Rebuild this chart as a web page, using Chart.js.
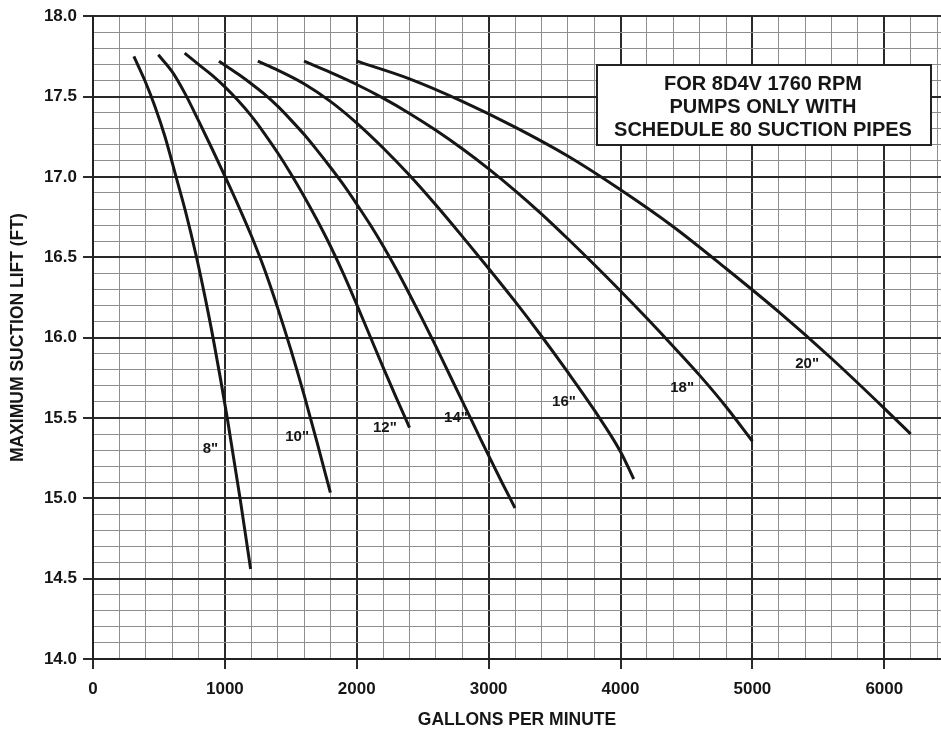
<!DOCTYPE html>
<html>
<head>
<meta charset="utf-8">
<script src="https://cdn.jsdelivr.net/npm/chart.js@4.4.1/dist/chart.umd.min.js"></script>
<style>
html,body{margin:0;padding:0;background:#fff;}
#wrap{width:941px;height:729px;position:relative;}
</style>
</head>
<body>
<div id="wrap"><canvas id="c" width="941" height="729"></canvas></div>
<script>
// ---- data ----
const pipeSizes = ['8"', '10"', '12"', '14"', '16"', '18"', '20"'];

const gpm8  = [310, 393, 469, 546, 630, 700, 785, 850, 910, 1018, 1115, 1195];
const lift8 = [17.75, 17.60, 17.44, 17.25, 17.00, 16.79, 16.50, 16.25, 16.00, 15.50, 15.00, 14.56];

const gpm10  = [495, 600, 700, 800, 900, 1000, 1100, 1200, 1300, 1400, 1500, 1600, 1700, 1800];
const lift10 = [17.76, 17.655, 17.515, 17.35, 17.18, 17.005, 16.825, 16.635, 16.425, 16.185, 15.925, 15.645, 15.345, 15.035];

const gpm12  = [695, 800, 900, 1000, 1100, 1200, 1300, 1400, 1500, 1600, 1700, 1800, 1900, 2000, 2100, 2200, 2300, 2400];
const lift12 = [17.77, 17.70, 17.635, 17.56, 17.475, 17.38, 17.27, 17.15, 17.02, 16.88, 16.73, 16.57, 16.395, 16.205, 16.01, 15.815, 15.625, 15.44];

const gpm14  = [955, 1100, 1200, 1300, 1400, 1500, 1600, 1700, 1800, 1900, 2000, 2100, 2200, 2300, 2400, 2500, 2600, 2700, 2800, 2900, 3000, 3100, 3200];
const lift14 = [17.72, 17.64, 17.58, 17.515, 17.44, 17.355, 17.265, 17.165, 17.06, 16.95, 16.83, 16.705, 16.57, 16.425, 16.27, 16.11, 15.945, 15.775, 15.605, 15.435, 15.265, 15.10, 14.94];

const gpm16  = [1250, 1400, 1600, 1800, 2000, 2200, 2400, 2600, 2800, 3000, 3200, 3400, 3600, 3800, 4000, 4100];
const lift16 = [17.72, 17.665, 17.58, 17.47, 17.335, 17.18, 17.01, 16.825, 16.63, 16.43, 16.225, 16.01, 15.785, 15.55, 15.29, 15.12];

const gpm18  = [1600, 1800, 2000, 2200, 2400, 2600, 2800, 3000, 3200, 3400, 3600, 3800, 4000, 4200, 4400, 4600, 4800, 5000];
const lift18 = [17.72, 17.65, 17.575, 17.49, 17.395, 17.29, 17.175, 17.05, 16.915, 16.77, 16.615, 16.455, 16.29, 16.12, 15.945, 15.765, 15.57, 15.355];

const gpm20  = [2000, 2400, 2800, 3200, 3600, 4000, 4400, 4800, 5200, 5600, 6000, 6200];
const lift20 = [17.72, 17.61, 17.47, 17.31, 17.13, 16.92, 16.69, 16.43, 16.16, 15.87, 15.56, 15.40];

// where each curve's size label sits (data units)
const labelGpm  = [891, 1548, 2213, 2752, 3571, 4467, 5415];
const labelLift = [15.31, 15.38, 15.44, 15.50, 15.60, 15.69, 15.835];

const xTickLabels = [0, 1000, 2000, 3000, 4000, 5000, 6000];
const yTickLabels = [14.0, 14.5, 15.0, 15.5, 16.0, 16.5, 17.0, 17.5, 18.0];

const noteLines = ['FOR 8D4V 1760 RPM', 'PUMPS ONLY WITH', 'SCHEDULE 80 SUCTION PIPES'];
const xTitle = 'GALLONS PER MINUTE';
const yTitle = 'MAXIMUM SUCTION LIFT (FT)';

// ---- build chart ----
const seriesGpm  = [gpm8, gpm10, gpm12, gpm14, gpm16, gpm18, gpm20];
const seriesLift = [lift8, lift10, lift12, lift14, lift16, lift18, lift20];

const FONT = '"Liberation Sans", Arial, Helvetica, sans-serif';
const INK = '#161616';
const X_MIN = 0, X_MAX = 6430, X_STEP = 200;

const xGrid = [];
for (let v = X_MIN; v <= X_MAX; v += X_STEP) xGrid.push(v);

const datasets = pipeSizes.map((name, i) => ({
  label: name,
  data: seriesGpm[i].map((g, j) => ({x: g, y: seriesLift[i][j]})),
  showLine: true,
  borderColor: INK,
  borderWidth: 3,
  pointRadius: 0,
  fill: false,
  cubicInterpolationMode: 'monotone'
}));

const isMajorX = v => xTickLabels.some(t => Math.abs(t - v) < 1e-6);
const isMajorY = v => yTickLabels.some(t => Math.abs(t - v) < 1e-6);

const annotate = {
  id: 'annotate',
  afterDatasetsDraw(chart) {
    const {ctx, scales: {x, y}} = chart;
    ctx.save();
    ctx.fillStyle = INK;
    ctx.font = 'bold 15px ' + FONT;
    ctx.textAlign = 'center';
    ctx.textBaseline = 'middle';
    pipeSizes.forEach((s, i) => {
      ctx.fillText(s, x.getPixelForValue(labelGpm[i]), y.getPixelForValue(labelLift[i]));
    });
    // note box
    const bx = 597, by = 65, bw = 334, bh = 80;
    ctx.fillStyle = '#fff';
    ctx.fillRect(bx, by, bw, bh);
    ctx.lineWidth = 2;
    ctx.strokeStyle = '#222';
    ctx.strokeRect(bx, by, bw, bh);
    ctx.fillStyle = INK;
    ctx.font = 'bold 20px ' + FONT;
    ctx.textBaseline = 'alphabetic';
    noteLines.forEach((t, i) => ctx.fillText(t, bx + bw / 2 - 1, 89.5 + i * 23.4));
    ctx.restore();
  }
};

new Chart(document.getElementById('c'), {
  type: 'scatter',
  data: {datasets},
  options: {
    responsive: false,
    animation: false,
    devicePixelRatio: 1,
    layout: {padding: {top: 12, right: 0, left: 0, bottom: 0}},
    plugins: {legend: {display: false}, tooltip: {enabled: false}},
    scales: {
      x: {
        type: 'linear',
        min: X_MIN, max: X_MAX,
        afterBuildTicks: s => { s.ticks = xGrid.map(v => ({value: v})); },
        afterFit: s => { s.height = 70; s.paddingRight = 0; s.paddingLeft = 0; },
        ticks: {
          autoSkip: false,
          maxRotation: 0,
          padding: 10,
          color: INK,
          font: {family: FONT, size: 17, weight: 'bold'},
          callback: v => isMajorX(v) ? String(Math.round(v)) : ''
        },
        grid: {
          color: c => isMajorX(c.tick.value) ? '#2a2a2a' : '#8e8e8e',
          lineWidth: c => isMajorX(c.tick.value) ? 2 : 1,
          tickColor: c => isMajorX(c.tick.value) ? '#2a2a2a' : 'rgba(0,0,0,0)',
          tickLength: 10,
          tickWidth: 2
        },
        border: {display: true, color: '#222', width: 2},
        title: {
          display: true, text: xTitle, color: INK,
          font: {family: FONT, size: 17.5, weight: 'bold', lineHeight: 1},
          padding: {top: 0, bottom: 0}
        }
      },
      y: {
        type: 'linear',
        min: 14, max: 18,
        afterFit: s => { s.width = 93; },
        ticks: {
          stepSize: 0.1,
          autoSkip: false,
          padding: 6,
          color: INK,
          font: {family: FONT, size: 17, weight: 'bold'},
          callback: v => isMajorY(v) ? v.toFixed(1) : ''
        },
        grid: {
          color: c => isMajorY(c.tick.value) ? '#2a2a2a' : '#8e8e8e',
          lineWidth: c => isMajorY(c.tick.value) ? 2 : 1,
          tickColor: c => isMajorY(c.tick.value) ? '#2a2a2a' : 'rgba(0,0,0,0)',
          tickLength: 10,
          tickWidth: 2
        },
        border: {display: true, color: '#222', width: 2},
        title: {
          display: true, text: yTitle, color: INK,
          font: {family: FONT, size: 17.5, weight: 'bold', lineHeight: 1},
          padding: {top: 9, bottom: 0}
        }
      }
    }
  },
  plugins: [annotate]
});
</script>
</body>
</html>
